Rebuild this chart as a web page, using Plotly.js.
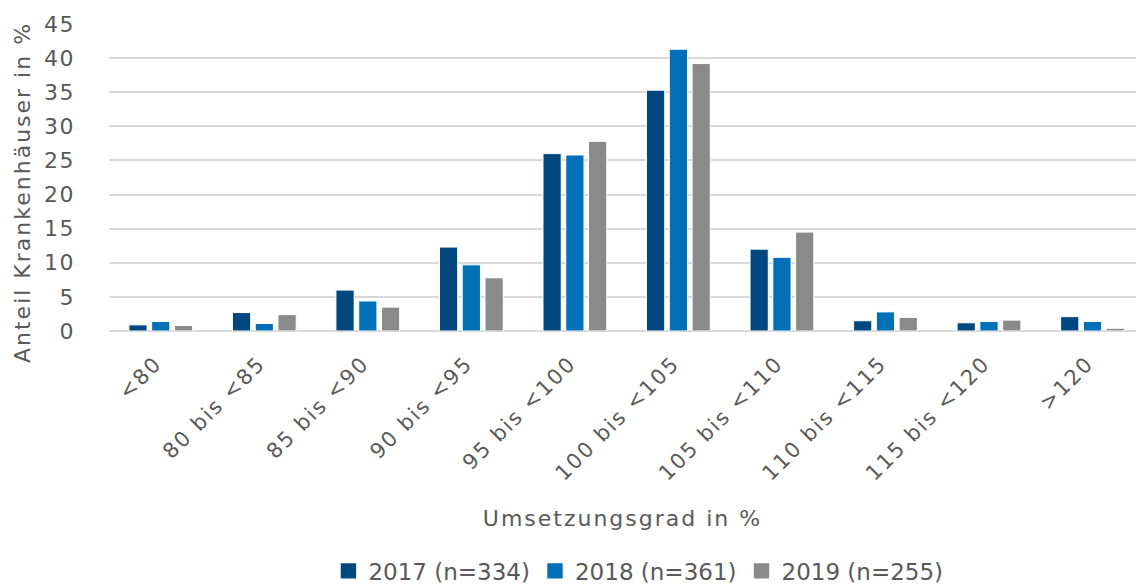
<!DOCTYPE html>
<html>
<head>
<meta charset="utf-8">
<script src="https://cdn.plot.ly/plotly-3.0.1.min.js"></script>
<style>
html,body{margin:0;padding:0;background:#fff;}
#chart{width:1136px;height:585px;}
#chart .xtitle, #chart .annotation-text { letter-spacing: 2px; }
#chart .xtick text { letter-spacing: 2px; }
#chart .ytick text { letter-spacing: 1.5px; }
</style>
</head>
<body>
<div id="chart"></div>
<script>
const categories = ["<80", "80 bis <85", "85 bis <90", "90 bis <95", "95 bis <100", "100 bis <105", "105 bis <110", "110 bis <115", "115 bis <120", ">120"];
const values2017 = [0.9, 2.7, 6.0, 12.3, 26.0, 35.3, 12.0, 1.5, 1.2, 2.1];
const values2018 = [1.4, 1.1, 4.4, 9.7, 25.8, 41.3, 10.8, 2.8, 1.4, 1.4];
const values2019 = [0.8, 2.4, 3.5, 7.8, 27.8, 39.2, 14.5, 2.0, 1.6, 0.4];
const seriesNames = ["2017 (n=334)", "2018 (n=361)", "2019 (n=255)"];
const yTicks = [0, 5, 10, 15, 20, 25, 30, 35, 40, 45];
const xTitle = "Umsetzungsgrad in %";
const yTitle = "Anteil Krankenhäuser in %";

const colors = ["#00467F", "#0070B8", "#8A8A8A"];
const textColor = "#595959";
const fontFam = "'DejaVu Sans', 'Noto Sans', sans-serif";

const data = [values2017, values2018, values2019].map((vals, i) => ({
  type: "bar",
  name: seriesNames[i],
  x: categories,
  y: vals,
  marker: { color: colors[i], line: { color: "#ffffff", width: 1 } },
  hoverinfo: "skip"
}));

const layout = {
  width: 1136,
  height: 585,
  margin: { l: 109, r: 0, t: 24, b: 254 },
  paper_bgcolor: "#ffffff",
  plot_bgcolor: "#ffffff",
  font: { family: fontFam, color: textColor, size: 21 },
  barmode: "group",
  bargap: 0.34,
  bargroupgap: 0.2,
  showlegend: true,
  legend: {
    orientation: "h",
    xref: "container", yref: "container",
    x: 0.562, xanchor: "center",
    y: 0.024, yanchor: "middle",
    font: { size: 23, color: textColor, family: fontFam },
    itemwidth: 30,
    traceorder: "normal"
  },
  xaxis: {
    type: "category",
    range: [-0.5, 9.42],
    tickangle: -45,
    tickfont: { size: 21, color: textColor },
    ticks: "",
    showgrid: false,
    showline: false,
    zeroline: false,
    ticklabelstandoff: 15,
    ticklabelshift: -5,
    title: { text: xTitle, font: { size: 22, color: textColor }, standoff: 43 },
    automargin: false
  },
  yaxis: {
    range: [0, 45],
    tickvals: yTicks,
    ticktext: yTicks.map(String),
    tickfont: { size: 22, color: textColor },
    showgrid: true,
    gridcolor: "#D9D9D9",
    gridwidth: 2,
    zeroline: true,
    zerolinecolor: "#D9D9D9",
    zerolinewidth: 2,
    showline: false,
    ticks: "",
    ticklabelstandoff: 33,
    automargin: false
  },
  annotations: [{
    text: yTitle,
    xref: "paper", yref: "paper",
    x: (22 - 109) / 1027, y: (331 - 193) / 307,
    xanchor: "center", yanchor: "middle",
    textangle: -90,
    showarrow: false,
    font: { size: 22, color: textColor, family: fontFam }
  }]
};

Plotly.newPlot("chart", data, layout, { displayModeBar: false, staticPlot: true }).then(gd => {
  gd.querySelectorAll(".legendpoints path").forEach(p => {
    const t = p.getAttribute("transform") || "";
    p.setAttribute("transform", t + " scale(1.4)");
  });
});
</script>
</body>
</html>
